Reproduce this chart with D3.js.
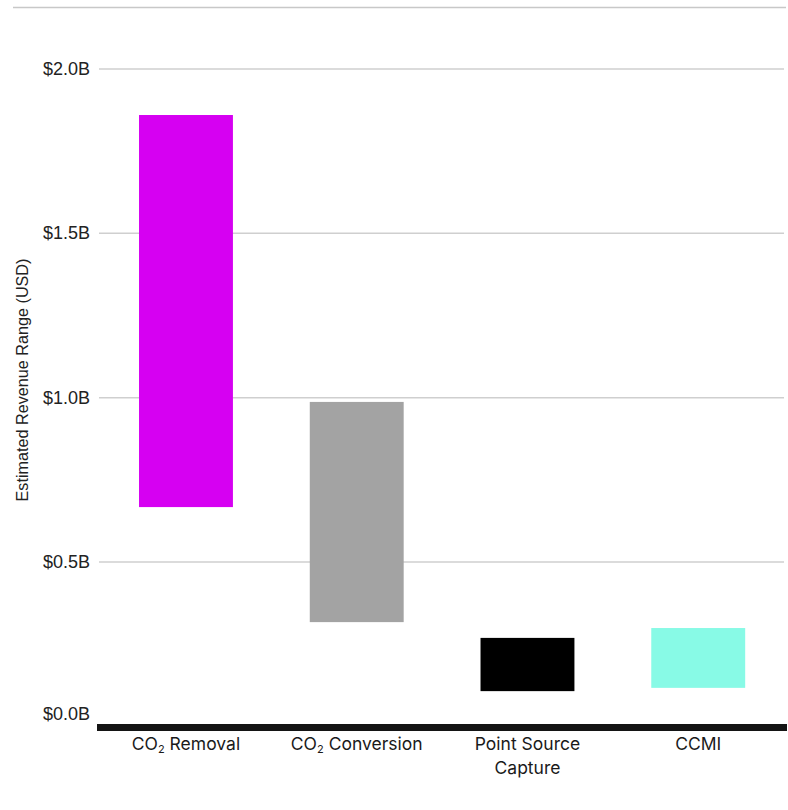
<!DOCTYPE html>
<html>
<head>
<meta charset="utf-8">
<script src="https://cdn.jsdelivr.net/npm/d3@7"></script>
<style>
    body { margin: 0; background: #fff; }
    .tick-label { font-family: "Liberation Sans", Arial, sans-serif; font-size: 18px; fill: #222; }
    .axisLabel { font-family: "Liberation Sans", Arial, sans-serif; font-size: 16.2px; fill: #222; }
    .cat-label { font-family: "Inter", "Liberation Sans", sans-serif; font-size: 17.5px; fill: #1a1a1a; }
</style>
</head>
<body>
<div id="canvas"></div>
<script>
"use strict"

// ---------------- DATA ----------------
let categories = ["CO2 Removal", "CO2 Conversion", "Point Source Capture", "CCMI"]
let lowValues = [0.667, 0.317, 0.107, 0.117]
let highValues = [1.86, 0.987, 0.269, 0.299]
let barColors = ["#d600f2", "#a3a3a3", "#000000", "#88fae6"]
let tickValues = [0, 0.5, 1.0, 1.5, 2.0]

let svgWidth = 788
let svgHeight = 810

let svg = d3.select("#canvas")
    .append("svg")
    .attr("width", svgWidth)
    .attr("height", svgHeight)

let xScale = d3.scaleBand()
    .domain(categories)
    .range([100.6, 783.6])
    .paddingInner(0.45)
    .paddingOuter(0.225)

let yScale = d3.scaleLinear()
    .domain([0, 2])
    .range([726.3, 69])

// top rule
svg.append("line")
    .attr("x1", 13).attr("x2", 786)
    .attr("y1", 7.5).attr("y2", 7.5)
    .attr("stroke", "#c8c8c8")
    .attr("stroke-width", 1.5)

// ---------------- GRID ----------------
svg.selectAll("line.grid")
    .data(tickValues.filter(function(d) { return d > 0 }))
    .enter()
    .append("line")
    .attr("class", "grid")
    .attr("x1", 99).attr("x2", 784)
    .attr("y1", function(d) { return yScale(d) })
    .attr("y2", function(d) { return yScale(d) })
    .attr("stroke", "#cfcfcf")
    .attr("stroke-width", 1.5)

svg.selectAll("text.tick-label")
    .data(tickValues)
    .enter()
    .append("text")
    .attr("class", "tick-label")
    .attr("x", 90)
    .attr("y", function(d) { return yScale(d) + (d === 0 ? -12 : 0) })
    .attr("text-anchor", "end")
    .attr("dominant-baseline", "central")
    .text(function(d) { return "$" + d3.format(".1f")(d) + "B" })

svg.append("text")
    .attr("class", "axisLabel")
    .attr("transform", "rotate(-90)")
    .attr("x", -380)
    .attr("y", 22)
    .attr("text-anchor", "middle")
    .attr("dominant-baseline", "central")
    .text("Estimated Revenue Range (USD)")

// ---------------- BARS ----------------
svg.selectAll("rect.bar")
    .data(categories)
    .enter()
    .append("rect")
    .attr("class", "bar")
    .attr("x", function(d) { return xScale(d) })
    .attr("width", xScale.bandwidth())
    .attr("y", function(d, i) { return yScale(highValues[i]) })
    .attr("height", function(d, i) { return yScale(lowValues[i]) - yScale(highValues[i]) })
    .attr("fill", function(d, i) { return barColors[i] })

// baseline
svg.append("rect")
    .attr("x", 97)
    .attr("y", yScale(0) - 2.3)
    .attr("width", 690)
    .attr("height", 7)
    .attr("fill", "#141414")

// ---------------- X LABELS ----------------
function addLabel(g, d) {
    let cx = xScale(d) + xScale.bandwidth() / 2
    let text = g.append("text")
        .attr("class", "cat-label")
        .attr("x", cx)
        .attr("text-anchor", "middle")
    if (d.startsWith("CO2")) {
        text.attr("y", 750)
        text.append("tspan").text("CO")
        text.append("tspan").attr("font-size", "11px").attr("dy", 3).text("2")
        text.append("tspan").attr("dy", -3).text(d.replace("CO2", ""))
    } else if (d === "Point Source Capture") {
        text.append("tspan").attr("x", cx).attr("y", 750).text("Point Source")
        text.append("tspan").attr("x", cx).attr("y", 774).text("Capture")
    } else {
        text.attr("y", 750).text(d)
    }
}

let labels = svg.append("g")
categories.forEach(function(d) { addLabel(labels, d) })
</script>
</body>
</html>
